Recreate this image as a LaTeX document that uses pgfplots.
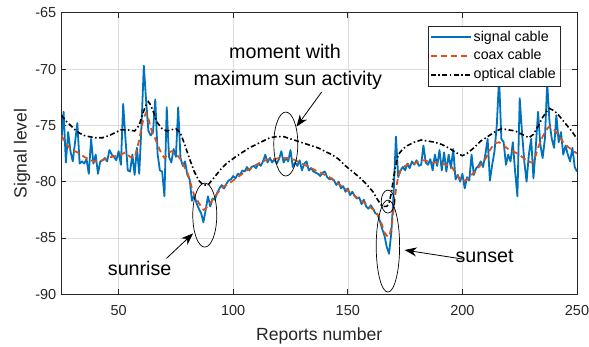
\documentclass[border=0pt]{standalone}
\usepackage{pgfplots}
\pgfplotsset{compat=1.18}
\usepackage{pgfplotstable}
\usepackage{fontspec}
\setmainfont{Liberation Sans}
\usetikzlibrary{arrows.meta}
\definecolor{mblue}{rgb}{0,0.447,0.741}
\definecolor{morange}{rgb}{0.85,0.325,0.098}
\definecolor{axgray}{rgb}{0.15,0.15,0.15}
\definecolor{gridgray}{RGB}{222,222,222}

\pgfplotstableread{
x y
25 -76.5
26 -73.8
27 -78.3
28 -75.6
29 -77.3
30 -78.2
31 -76.5
32 -74.8
33 -78.4
34 -78.2
35 -78.4
36 -78.0
37 -79.3
38 -76.2
39 -78.4
40 -77.6
41 -79.3
42 -78.2
43 -78.1
44 -77.9
45 -78.2
46 -77.2
47 -77.6
48 -77.8
49 -78.1
50 -77.3
51 -78.5
52 -73.1
53 -76.2
54 -79.0
55 -79.1
56 -77.6
57 -79.4
58 -77.0
59 -79.3
60 -75.0
61 -69.7
62 -72.8
63 -75.5
64 -75.9
65 -75.6
66 -72.7
67 -77.5
68 -79.0
69 -79.1
70 -81.3
71 -73.4
72 -77.8
73 -78.3
74 -77.1
75 -77.8
76 -73.4
77 -77.9
78 -78.6
79 -78.2
80 -79.4
81 -79.8
82 -81.7
83 -81.2
84 -81.9
85 -82.4
86 -82.8
87 -83.6
88 -82.5
89 -81.3
90 -82.2
91 -81.5
92 -81.6
93 -81.0
94 -80.6
95 -80.3
96 -80.6
97 -80.2
98 -79.9
99 -79.8
100 -79.5
101 -79.7
102 -79.3
103 -79.4
104 -79.0
105 -79.1
106 -78.7
107 -79.0
108 -78.7
109 -78.6
110 -78.8
111 -78.4
112 -78.6
113 -78.2
114 -77.6
115 -78.3
116 -77.9
117 -78.3
118 -78.0
119 -78.4
120 -78.0
121 -77.3
122 -78.3
123 -77.9
124 -78.2
125 -77.2
126 -78.7
127 -78.3
128 -78.6
129 -78.1
130 -79.0
131 -78.4
132 -78.2
133 -79.0
134 -78.8
135 -79.1
136 -79.2
137 -79.3
138 -79.5
139 -79.2
140 -79.1
141 -79.6
142 -79.8
143 -79.7
144 -79.9
145 -80.3
146 -80.0
147 -80.6
148 -80.4
149 -80.9
150 -80.6
151 -81.2
152 -80.9
153 -81.3
154 -81.5
155 -81.4
156 -82.0
157 -81.6
158 -82.2
159 -82.4
160 -82.1
161 -82.4
162 -82.8
163 -82.9
164 -83.5
165 -84.2
166 -84.8
167 -85.8
168 -86.4
169 -84.5
170 -81.0
171 -76.0
172 -79.6
173 -79.0
174 -78.7
175 -79.0
176 -78.4
177 -78.8
178 -78.2
179 -78.5
180 -78.1
181 -78.6
182 -78.5
183 -76.8
184 -78.3
185 -78.5
186 -78.0
187 -79.0
188 -77.6
189 -78.6
190 -77.2
191 -79.0
192 -77.4
193 -79.1
194 -77.6
195 -78.8
196 -77.1
197 -79.8
198 -79.4
199 -80.0
200 -79.3
201 -80.6
202 -79.6
203 -79.9
204 -77.6
205 -79.4
206 -78.8
207 -78.6
208 -78.2
209 -78.7
210 -77.6
211 -76.2
212 -79.9
213 -78.5
214 -77.3
215 -75.0
216 -70.8
217 -76.2
218 -76.5
219 -78.5
220 -77.6
221 -78.2
222 -76.5
223 -79.1
224 -81.3
225 -72.6
226 -75.6
227 -78.2
228 -80.0
229 -77.6
230 -76.2
231 -79.7
232 -77.0
233 -73.8
234 -76.7
235 -77.9
236 -76.2
237 -71.2
238 -74.7
239 -76.2
240 -77.0
241 -74.1
242 -76.5
243 -75.6
244 -77.6
245 -76.8
246 -77.6
247 -78.2
248 -77.0
249 -78.7
250 -79.1
}\signal

\pgfplotstableread{
x y
25 -75.9
27 -76.6
29 -77.1
31 -77.3
33 -77.5
35 -77.8
37 -78.0
39 -78.2
41 -78.2
43 -78.1
45 -77.9
47 -77.8
49 -77.7
51 -77.6
53 -77.4
55 -77.8
57 -77.9
59 -76.3
60 -75.2
61 -74.3
62 -73.9
63 -74.4
64 -75.2
65 -75.8
66 -76.2
67 -76.7
68 -77.2
69 -77.6
70 -77.9
71 -77.7
72 -77.4
73 -77.3
75 -77.5
77 -78.0
79 -78.8
80 -79.2
81 -79.8
82 -80.6
83 -81.2
84 -81.5
85 -81.9
86 -82.2
87 -82.5
88 -82.4
89 -82.1
90 -81.9
91 -81.6
92 -81.3
94 -80.8
96 -80.4
98 -80.2
100 -79.9
102 -79.6
104 -79.3
106 -79.0
108 -78.8
110 -78.5
112 -78.3
114 -78.1
116 -78.0
118 -78.0
120 -77.9
122 -77.9
124 -77.9
126 -78.0
128 -78.2
130 -78.4
132 -78.6
134 -78.8
136 -79.0
138 -79.2
140 -79.4
142 -79.6
144 -79.9
146 -80.2
148 -80.5
150 -80.8
152 -81.1
154 -81.4
156 -81.7
158 -82.0
160 -82.3
162 -82.6
164 -83.3
165 -83.9
166 -84.5
167 -84.8
168 -84.9
169 -84.1
170 -82.5
171 -80.7
172 -79.5
173 -79.0
175 -78.6
177 -78.4
179 -78.4
181 -78.2
183 -78.1
185 -78.2
187 -78.3
189 -78.3
191 -78.4
193 -78.5
195 -78.6
197 -79.2
199 -79.8
200 -80.0
202 -79.8
204 -79.4
206 -79.0
208 -78.5
210 -78.0
212 -77.2
214 -76.6
216 -76.5
218 -76.8
220 -77.1
222 -77.3
224 -77.5
226 -77.8
228 -78.1
230 -78.3
231 -78.3
233 -77.0
235 -76.0
237 -75.3
238 -75.1
240 -75.4
242 -75.9
244 -76.5
246 -76.9
248 -77.2
250 -77.5
}\coax

\pgfplotstableread{
x y
25 -74.1
27 -74.6
29 -75.0
31 -75.4
33 -75.7
35 -75.9
37 -76.0
40 -76.1
43 -76.1
46 -75.9
49 -75.6
51 -75.4
54 -75.4
57 -75.5
59 -75.0
60 -74.3
61 -73.7
62 -73.2
63 -72.9
64 -73.2
65 -73.7
66 -74.3
67 -74.8
69 -75.3
71 -75.5
73 -75.4
75 -75.3
77 -75.7
79 -76.8
81 -78.0
83 -79.1
85 -79.9
87 -80.3
89 -80.3
91 -79.8
93 -79.3
95 -78.8
97 -78.4
99 -78.1
101 -77.8
104 -77.4
107 -77.0
110 -76.7
113 -76.4
116 -76.1
119 -76.0
122 -76.0
125 -76.2
128 -76.4
131 -76.6
134 -76.8
137 -77.0
140 -77.3
143 -77.6
146 -78.0
149 -78.6
152 -79.1
155 -79.6
158 -80.2
161 -80.9
163 -81.6
165 -82.2
167 -82.2
168 -81.9
169 -81.0
170 -79.6
171 -78.5
172 -77.6
174 -77.1
176 -76.8
179 -76.5
182 -76.3
185 -76.4
188 -76.5
191 -76.7
194 -77.0
197 -77.4
200 -77.7
202 -77.5
205 -77.0
208 -76.4
211 -76.0
214 -75.6
217 -75.3
220 -75.4
223 -75.5
226 -75.8
229 -76.1
231 -75.8
233 -75.1
235 -74.3
237 -73.7
238 -73.5
240 -73.7
242 -74.1
244 -74.6
246 -75.1
248 -75.6
250 -76.2
}\optical

\begin{document}
\begin{tikzpicture}
\begin{axis}[
  scale only axis, width=515.7pt, height=281.6pt,
  xmin=25, xmax=250, ymin=-90, ymax=-65,
  xtick={50,100,150,200,250}, ytick={-90,-85,-80,-75,-70,-65},
  grid=major, major grid style={gridgray, line width=0.6pt},
  axis line style={axgray, line width=0.8pt},
  tick style={axgray, line width=0.8pt},
  tick align=inside, major tick length=5pt,
  /pgf/number format/assume math mode=true,
  ticklabel style={font=\fontsize{14.5}{16}\selectfont, text=axgray},
  xticklabel style={yshift=-7.4pt},
  yticklabel style={xshift=-1.5pt},
  xlabel={Reports number}, ylabel={Signal level},
  label style={font=\fontsize{17.6}{20}\selectfont, text=axgray},
  xlabel style={at={(axis description cs:0.5,-0.1648)}, anchor=base},
  ylabel style={at={(axis description cs:-0.0762,0.5)}, anchor=center},
  legend style={at={(axis description cs:0.7105,0.9538)}, anchor=north west,
    draw=axgray, fill=white,
    font=\fontsize{14.2}{16}\selectfont,
    inner xsep=2pt, inner ysep=2pt, row sep=0pt,
    nodes={inner ysep=2.75pt, inner xsep=2pt, text height=10.4pt, text depth=3pt}},
  legend cell align=left,
  legend image code/.code={\draw[#1] (0pt,0pt) -- (40pt,0pt);},
]
\addplot[mblue, line width=1.8pt, line join=round] table {\signal};
\addlegendentry{signal cable}
\addplot[morange, line width=1.8pt, dash pattern=on 6pt off 4pt] table {\coax};
\addlegendentry{coax cable}
\addplot[black, line width=1.6pt, dash pattern=on 5pt off 2.5pt on 1.5pt off 2.5pt] table {\optical};
\addlegendentry{optical clable}

\draw[line width=0.7pt] (axis cs:87.6,-82.97) ellipse [x radius=12pt, y radius=32pt];
\draw[line width=0.7pt] (axis cs:122.95,-76.66) ellipse [x radius=12pt, y radius=32pt];
\draw[line width=0.7pt] (axis cs:167.5,-81.77) ellipse [x radius=6.7pt, y radius=11.5pt];
\draw[line width=0.7pt] (axis cs:167.5,-85.72) ellipse [x radius=11.7pt, y radius=46pt];

\draw[-{Stealth[length=12pt,width=9pt]}, line width=0.8pt] (axis cs:138.6,-72.04) -- (axis cs:127.6,-75.12);
\draw[-{Stealth[length=12pt,width=9pt]}, line width=0.8pt] (axis cs:70.9,-86.81) -- (axis cs:82.5,-84.59);
\draw[-{Stealth[length=12pt,width=9pt]}, line width=0.8pt] (axis cs:200.1,-86.87) -- (axis cs:174.8,-86.07);

\node[font=\fontsize{19.7}{22}\selectfont, anchor=base] at (axis cs:122.6,-69.05) {moment with};
\node[font=\fontsize{19.7}{22}\selectfont, anchor=base] at (axis cs:123.8,-71.42) {maximum sun activity};
\node[font=\fontsize{19.7}{22}\selectfont, anchor=base] at (axis cs:59.2,-88.3) {sunrise};
\node[font=\fontsize{19.7}{22}\selectfont, anchor=base] at (axis cs:209.7,-87.14) {sunset};
\end{axis}
\pgfresetboundingbox
\path ([shift={(-61.3pt,12.7pt)}]current axis.north west) rectangle ([shift={(12pt,-52.7pt)}]current axis.south east);
\end{tikzpicture}
\end{document}
